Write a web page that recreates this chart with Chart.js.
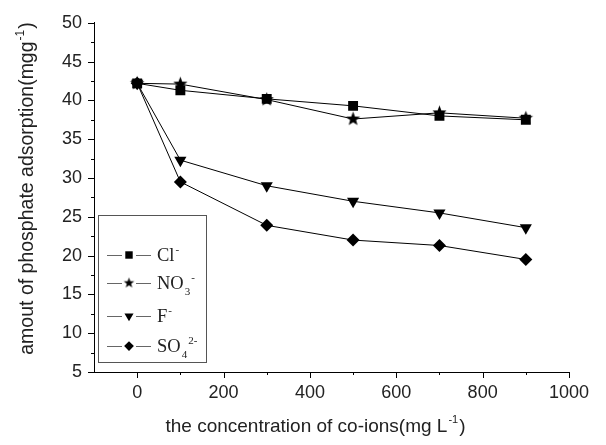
<!DOCTYPE html>
<html lang="en">
<head>
  <meta charset="UTF-8">
  <title>Phosphate adsorption vs co-ions</title>
  <script src="https://cdn.jsdelivr.net/npm/chart.js"></script>
  <style>
    body { margin: 0; background: #fff; }
    #wrap { width: 606px; height: 445px; }
  </style>
</head>
<body>
  <div id="wrap"><canvas id="chart" width="606" height="445"></canvas></div>

  <script>
    // data
    const concentration = [0, 100, 300, 500, 700, 900];
    const clValues  = [42.2, 41.3, 40.2, 39.3, 38.0, 37.5];
    const no3Values = [42.2, 42.1, 40.1, 37.6, 38.4, 37.7];
    const fValues   = [42.2, 32.3, 29.0, 27.0, 25.5, 23.6];
    const so4Values = [42.2, 29.5, 23.9, 22.0, 21.3, 19.5];
    const xTicks = [0, 200, 400, 600, 800, 1000];
    const yTicks = [5, 10, 15, 20, 25, 30, 35, 40, 45, 50];

    const TEXT = "#222";
    const SANS = "'Liberation Sans', Arial, sans-serif";
    const SERIF = "'Liberation Serif', 'Times New Roman', serif";

    // filled five point star, used as a point style
    function makeStar(r) {
      const s = Math.ceil(r * 2 + 2);
      const c = document.createElement("canvas");
      c.width = c.height = s;
      const g = c.getContext("2d");
      g.beginPath();
      for (let i = 0; i < 10; i++) {
        const a = -Math.PI / 2 + i * Math.PI / 5;
        const rr = i % 2 ? r * 0.42 : r;
        g.lineTo(s / 2 + rr * Math.cos(a), s / 2 + rr * Math.sin(a));
      }
      g.closePath();
      g.fillStyle = "#000";
      g.fill();
      return c;
    }
    const bigStar = makeStar(7.5);
    const smallStar = makeStar(5.5);

    const toPoints = vals => concentration.map((x, i) => ({ x: x, y: vals[i] }));

    const series = [
      { label: "Cl", values: clValues, style: "rect", radius: 7, rot: 0,
        parts: [{ t: "Cl" }, { t: "-", sup: true }] },
      { label: "NO3", values: no3Values, style: bigStar, radius: 7, rot: 0,
        parts: [{ t: "NO" }, { t: "3", sub: true }, { t: "-", sup: true }] },
      { label: "F", values: fValues, style: "triangle", radius: 7, rot: 180,
        parts: [{ t: "F" }, { t: "-", sup: true }] },
      { label: "SO4", values: so4Values, style: "rectRot", radius: 6.5, rot: 0,
        parts: [{ t: "SO" }, { t: "4", sub: true }, { t: "2-", sup: true }] }
    ];

    // draw text made of runs, with raised or lowered small parts
    function drawRuns(ctx, runs, x, y, size, family, align) {
      const fontFor = r => (r.sup || r.sub ? Math.round(size * 0.6) : size) + "px " + family;
      let w = 0;
      runs.forEach(r => { ctx.font = fontFor(r); w += ctx.measureText(r.t).width + 1; });
      let cx = align === "center" ? x - w / 2 : x;
      ctx.textAlign = "left";
      ctx.textBaseline = "alphabetic";
      runs.forEach(r => {
        ctx.font = fontFor(r);
        const dy = r.sup ? -size * 0.45 : (r.sub ? size * 0.3 : 0);
        ctx.fillText(r.t, cx, y + dy);
        cx += ctx.measureText(r.t).width + 1;
      });
    }

    const decor = {
      id: "decor",
      afterDraw(chart) {
        const ctx = chart.ctx;
        const xs = chart.scales.x, ys = chart.scales.y;
        const area = chart.chartArea;
        ctx.save();
        ctx.strokeStyle = "#000";
        ctx.lineWidth = 1;

        // x ticks, outward, minor every 100
        for (let v = 0; v <= 1000; v += 100) {
          const px = Math.round(xs.getPixelForValue(v)) + 0.5;
          const len = v % 200 === 0 ? 6 : 3;
          ctx.beginPath();
          ctx.moveTo(px, area.bottom);
          ctx.lineTo(px, area.bottom + len);
          ctx.stroke();
        }
        // y ticks, outward, minor every 2.5
        for (let v = 5; v <= 50; v += 2.5) {
          const py = Math.round(ys.getPixelForValue(v)) + 0.5;
          const len = v % 5 === 0 ? 6 : 3;
          ctx.beginPath();
          ctx.moveTo(area.left, py);
          ctx.lineTo(area.left - len, py);
          ctx.stroke();
        }

        // axis titles
        ctx.fillStyle = TEXT;
        drawRuns(ctx, [{ t: "the concentration of co-ions(mg L" }, { t: "-1", sup: true }, { t: ")" }],
          316, 432, 19, SANS, "center");
        ctx.save();
        ctx.translate(33, 188);
        ctx.rotate(-Math.PI / 2);
        drawRuns(ctx, [{ t: "amout of phosphate adsorption(mgg" }, { t: "-1", sup: true }, { t: ")" }],
          0, 0, 19.5, SANS, "center");
        ctx.restore();

        // legend inside the plot
        ctx.strokeStyle = "#555";
        ctx.strokeRect(98.5, 215.5, 108, 147);
        const rowY = [255, 283, 316, 346];
        series.forEach((s, i) => {
          const y = rowY[i];
          ctx.strokeStyle = "#666";
          ctx.beginPath();
          ctx.moveTo(107, y + 0.5); ctx.lineTo(122, y + 0.5);
          ctx.moveTo(136, y + 0.5); ctx.lineTo(151, y + 0.5);
          ctx.stroke();
          ctx.fillStyle = "#000";
          ctx.strokeStyle = "#000";
          const style = s.style === bigStar ? smallStar : s.style;
          Chart.helpers.drawPoint(ctx, { pointStyle: style, radius: s.radius * 0.75, rotation: s.rot, borderWidth: 0 }, 129, y);
          ctx.fillStyle = TEXT;
          drawRuns(ctx, s.parts, 157, y + 6, 18.5, SERIF, "left");
        });
        ctx.restore();
      }
    };

    new Chart(document.getElementById("chart"), {
      type: "line",
      data: {
        datasets: series.map(s => ({
          label: s.label,
          data: toPoints(s.values),
          borderColor: "#000",
          borderWidth: 1,
          backgroundColor: "#000",
          pointStyle: s.style,
          pointRadius: s.radius,
          pointRotation: s.rot,
          pointBorderWidth: 0,
          pointBackgroundColor: "#000",
          tension: 0
        }))
      },
      options: {
        responsive: false,
        animation: false,
        layout: { padding: { top: 16, right: 37, left: 0, bottom: 0 } },
        plugins: { legend: { display: false }, tooltip: { enabled: false } },
        scales: {
          x: {
            type: "linear",
            min: -100,
            max: 1000,
            afterBuildTicks: s => { s.ticks = xTicks.map(v => ({ value: v })); },
            afterFit: s => { s.height = 73; },
            grid: { drawOnChartArea: false, drawTicks: false },
            border: { display: true, color: "#000", width: 1 },
            ticks: { color: TEXT, font: { family: SANS, size: 18 }, padding: 10, maxRotation: 0,
              callback: v => String(v) }
          },
          y: {
            min: 5,
            max: 50,
            afterBuildTicks: s => { s.ticks = yTicks.map(v => ({ value: v })); },
            afterFit: s => { s.width = 94; },
            grid: { drawOnChartArea: false, drawTicks: false },
            border: { display: true, color: "#000", width: 1 },
            ticks: { color: TEXT, font: { family: SANS, size: 18 }, padding: 12,
              callback: v => String(v) }
          }
        }
      },
      plugins: [decor]
    });
  </script>
</body>
</html>
